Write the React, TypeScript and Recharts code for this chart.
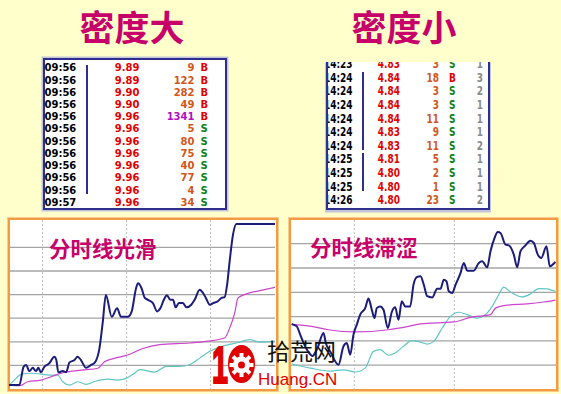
import React from 'react';
import { LineChart, Line, XAxis, YAxis, ReferenceLine } from 'recharts';

type Pt = [number, number];

// left panel: smooth intraday line  [minute, level]
const smoothPrice: Pt[] = [
  [0, 0.17], [3.7, 0.17], [5.2, 0.94], [6.1, 1.02], [7.3, 0.76], [8.5, 0.9], [9.6, 0.76], [10.5, 0.9],
  [11.4, 0.71], [12.6, 0.94], [14.4, 1.09], [16.2, 1.37], [16.9, 1.23], [17.6, 0.71], [19.2, 0.76],
  [20.4, 0.71], [21.6, 1.13], [23.4, 1.23], [24.5, 1.37], [25.7, 1.23], [27.5, 0.9], [29.3, 1.02],
  [30.7, 1.13], [32.3, 1.72], [33.5, 2.85], [34.6, 3.98], [36.7, 3.06], [38.6, 3.42], [40, 3.06],
  [42.4, 3.06], [43.8, 3.28], [45.4, 4.28], [46.1, 4.48], [47.3, 4.28], [48.5, 3.86], [49.6, 3.78],
  [51.4, 3.64], [52.9, 3.29], [54.1, 3.43], [55.3, 3.78], [56.4, 3.97], [57.6, 3.78], [58.6, 3.78],
  [59.5, 3.46], [60.7, 3.64], [62.1, 3.64], [63.4, 3.46], [65.1, 3.57], [66.3, 3.78], [68.1, 4.21],
  [69.3, 4.07], [70.3, 3.86], [71.7, 3.57], [72.9, 3.64], [74.6, 3.72], [75.9, 3.86], [77, 3.89],
  [77.9, 4.42], [78.8, 5.41], [80, 6.54], [81.2, 6.99], [95, 6.99],
];
const smoothAvg: Pt[] = [
  [0, 0.17], [3.7, 0.14], [6.7, 0.31], [11.4, 0.38], [15, 0.52], [18.6, 0.67], [26.9, 0.81],
  [31.7, 0.88], [34.1, 1.16], [37.6, 1.3], [42.4, 1.44], [47.8, 1.72], [53.8, 1.88], [64.5, 1.95],
  [70.5, 2.02], [77, 2.16], [78.8, 2.58], [80.6, 3.22], [81.8, 3.86], [84.8, 4.03], [88.4, 4.14],
  [95, 4.31],
];
const smoothMa: Pt[] = [
  [0, 0.17], [1.9, 0.38], [4.3, 0.62], [7.9, 0.67], [15, 0.59], [17.4, 0.59], [19.2, 0.31],
  [21.6, 0.17], [24.5, 0.31], [27.5, 0.2], [31.1, 0.34], [35.3, 0.42], [38.8, 0.38], [41.8, 0.45],
  [44.8, 0.67], [46.7, 0.82], [52, 0.72], [56.2, 0.96], [61, 0.96], [64.5, 1.03], [68.1, 1.31],
  [71.7, 1.6], [75.9, 1.81], [81.2, 1.95], [86, 2.09], [89.5, 1.99], [95, 2.03],
];

// right panel: choppy intraday line
const roughPrice: Pt[] = [
  [0.2, 2.7], [0.75, 2.67], [1.74, 2.6], [2.76, 2.26], [3.84, 1.9], [5.25, 1.54], [6.45, 1.38],
  [7.95, 1.71], [9.75, 2.33], [10.44, 1.91], [11.85, 1.54], [14.25, 1.02], [15.75, 1.78],
  [16.74, 1.91], [17.76, 1.43], [18.75, 2.26], [19.74, 2.67], [20.76, 3.08], [22.26, 3.35],
  [23.25, 3.74], [24.24, 3.28], [25.05, 2.94], [25.74, 3.35], [26.76, 3.42], [27.75, 3.28],
  [29.04, 2.53], [30.24, 3.19], [31.26, 3.38], [32.25, 2.87], [33.24, 3.63], [34.26, 3.42],
  [35.76, 3.42], [36.75, 4.31], [37.74, 4.62], [38.85, 4.66], [39.84, 4.31], [40.86, 3.84],
  [42.36, 3.79], [43.86, 4.15], [44.85, 4.15], [45.84, 4.52], [46.65, 4.45], [47.34, 4.04],
  [48.36, 3.97], [49.35, 4.31], [50.85, 4.79], [51.84, 5.21], [52.86, 4.89], [54.84, 4.89],
  [56.34, 5.21], [57.36, 5.28], [58.86, 5.03], [59.85, 5.69], [61.05, 6.23], [62.04, 6.48],
  [62.85, 6.44], [64.35, 5.96], [65.34, 5.93], [66.84, 5.55], [67.86, 5.03], [68.85, 5.69],
  [70.35, 5.93], [71.85, 6.12], [72.84, 6.03], [74.04, 5.55], [75.06, 5.41], [76.65, 5.89],
  [77.64, 5.07], [78.66, 5.16], [79.35, 5.25],
];
const roughAvg: Pt[] = [
  [0.2, 2.67], [6.24, 2.6], [11.25, 2.46], [19.26, 2.37], [29.25, 2.46], [35.25, 2.6], [38.85, 2.7],
  [48.84, 2.78], [53.85, 2.97], [59.85, 3.08], [61.35, 3.35], [64.86, 3.47], [70.86, 3.52],
  [75.84, 3.6], [79.35, 3.68],
];
const roughMa: Pt[] = [
  [0.2, 1.05], [5.85, 0.88], [11.85, 0.76], [15.75, 0.81], [19.26, 0.72], [22.26, 0.88],
  [24.75, 1.57], [26.76, 1.64], [29.25, 1.41], [31.26, 1.5], [33.75, 1.78], [36.24, 2.01],
  [38.85, 1.95], [40.86, 1.87], [42.84, 1.98], [45.36, 2.53], [47.85, 3.01], [50.34, 3.18],
  [52.86, 3.08], [55.86, 2.94], [58.35, 3.08], [60.36, 3.42], [62.34, 3.9], [63.84, 4.21],
  [65.85, 4.01], [69.36, 3.81], [71.85, 3.93], [74.34, 4.15], [76.86, 4.14], [78.66, 4.07],
  [79.35, 4.05],
];

const gridLevels = [1, 2, 3, 4, 5, 6];
const smoothGridTimes = [12, 42, 72];
const roughGridTimes = [19, 49];

// tick tables
const denseTimes = ['09:56', '09:56', '09:56', '09:56', '09:56', '09:56', '09:56', '09:56', '09:56', '09:56', '09:56', '09:57'];
const densePrices = ['9.89', '9.89', '9.90', '9.90', '9.96', '9.96', '9.96', '9.96', '9.96', '9.96', '9.96', '9.96'];
const denseVols = [9, 122, 282, 49, 1341, 5, 80, 75, 40, 77, 4, 34];
const denseSides = ['B', 'B', 'B', 'B', 'B', 'S', 'S', 'S', 'S', 'S', 'S', 'S'];

const sparseTimes = ['14:23', '14:24', '14:24', '14:24', '14:24', '14:24', '14:24', '14:25', '14:25', '14:25', '14:26'];
const sparsePrices = ['4.83', '4.84', '4.84', '4.84', '4.84', '4.83', '4.83', '4.81', '4.80', '4.80', '4.80'];
const sparseVols = [3, 18, 3, 3, 11, 9, 11, 5, 2, 1, 23];
const sparseSides = ['S', 'B', 'S', 'S', 'S', 'S', 'S', 'S', 'S', 'S', 'S'];
const sparseCounts = [1, 3, 2, 1, 1, 1, 2, 1, 1, 1, 2];

const NAVY = '#1c1c7a';
const TITLE = '#c8006a';
const RED = '#e00000';
const ORANGE = '#d2561a';
const GREEN = '#108010';
const MONO = "'DejaVu Sans', Verdana, sans-serif";
const CJK = "'Noto Sans CJK SC', sans-serif";

const rows = (pts: Pt[]) => pts.map(([t, v]) => ({ t, v }));

interface PanelProps {
  price: Pt[];
  avg: Pt[];
  ma: Pt[];
  times: number[];
  xDomain: [number, number];
  yDomain: [number, number];
  width: number;
  height: number;
}

const Panel: React.FC<PanelProps> = ({ price, avg, ma, times, xDomain, yDomain, width, height }) => (
  <LineChart width={width} height={height} margin={{ top: 0, right: 0, bottom: 0, left: 0 }}>
    <XAxis type="number" dataKey="t" domain={xDomain} allowDataOverflow hide />
    <YAxis type="number" dataKey="v" domain={yDomain} allowDataOverflow hide />
    {gridLevels.map((y) => (
      <ReferenceLine key={'h' + y} y={y} stroke="#a4a4a4" strokeWidth={1.3} />
    ))}
    {times.map((x) => (
      <ReferenceLine key={'v' + x} x={x} stroke="#bdbdbd" strokeDasharray="2 2" />
    ))}
    <Line data={rows(ma)} dataKey="v" type="monotone" stroke="#62c6c6" strokeWidth={1.2} dot={false} isAnimationActive={false} />
    <Line data={rows(avg)} dataKey="v" type="monotone" stroke="#cc44cc" strokeWidth={1.2} dot={false} isAnimationActive={false} />
    <Line data={rows(price)} dataKey="v" type="monotone" stroke={NAVY} strokeWidth={2} dot={false} isAnimationActive={false} />
  </LineChart>
);

const abs = (s: React.CSSProperties): React.CSSProperties => ({ position: 'absolute', ...s });

// right-aligned text ending at x
const RightText: React.FC<{ x: number; cy: number; color: string; size: number; sx?: number; children: React.ReactNode }> = ({ x, cy, color, size, sx = 1, children }) => (
  <div
    style={abs({
      left: x - 80, width: 80, top: cy - 7, height: 14, lineHeight: '14px', textAlign: 'right',
      fontSize: size, fontWeight: 700, color, fontFamily: MONO, whiteSpace: 'nowrap',
      transform: `scaleX(${sx})`, transformOrigin: 'right center',
    })}
  >
    {children}
  </div>
);

const LeftText: React.FC<{ x: number; cy: number; color: string; size: number; sx?: number; children: React.ReactNode }> = ({ x, cy, color, size, sx = 1, children }) => (
  <div
    style={abs({
      left: x, top: cy - 7, height: 14, lineHeight: '14px', fontSize: size, fontWeight: 700, color,
      fontFamily: MONO, whiteSpace: 'nowrap', transform: `scaleX(${sx})`, transformOrigin: 'left center',
    })}
  >
    {children}
  </div>
);

const DenseTable = () => {
  const cy = (i: number) => 68.3 + 12.22 * i;
  return (
    <>
      <div style={abs({ left: 43, top: 57.5, width: 183.5, height: 152.5, boxSizing: 'border-box', border: '2px solid #2e2e8e', background: '#fff', boxShadow: '0 0 0 1.5px #c4c4d8' })} />
      <div style={abs({ left: 85.5, top: cy(0) - 3, width: 2, height: cy(10) - cy(0) + 7, background: '#2e2e8e' })} />
      {denseTimes.map((t, i) => (
        <LeftText key={'t' + i} x={44.5} cy={cy(i)} color="#000" size={10}>{t}</LeftText>
      ))}
      {densePrices.map((p, i) => (
        <RightText key={'p' + i} x={139.5} cy={cy(i)} color={RED} size={10}>{p}</RightText>
      ))}
      {denseVols.map((v, i) => (
        <RightText key={'v' + i} x={194.5} cy={cy(i)} color={v > 1000 ? '#b010c0' : ORANGE} size={10}>{v}</RightText>
      ))}
      {denseSides.map((s, i) => (
        <LeftText key={'s' + i} x={200.5} cy={cy(i)} color={s === 'B' ? RED : GREEN} size={10}>{s}</LeftText>
      ))}
    </>
  );
};

const SparseTable = () => {
  // coordinates relative to the clipped box (padding edge at x=328, y=61.5)
  const ox = 328;
  const oy = 61.5;
  const cy = (i: number) => 64.2 + 13.6 * i - oy;
  const sx = 0.78;
  const groups: [number, number][] = [[1, 6], [7, 9]];
  return (
    <div style={abs({ left: 326, top: oy, width: 164, height: 148.5, boxSizing: 'border-box', borderLeft: '2px solid #2e2e8e', borderRight: '2px solid #2e2e8e', borderBottom: '2px solid #2e2e8e', background: '#fff', overflow: 'hidden', boxShadow: '0 1.5px 0 1px #c4c4d8' })}>
      {groups.map(([a, b]) => (
        <div key={a} style={abs({ left: 362.3 - ox, top: cy(a) - 6, width: 2, height: cy(b) - cy(a) + 10, background: '#2e2e8e' })} />
      ))}
      {sparseTimes.map((t, i) => (
        <LeftText key={'t' + i} x={323.8 - ox} cy={cy(i)} color="#000" size={11.5} sx={sx}>{t}</LeftText>
      ))}
      {sparsePrices.map((p, i) => (
        <RightText key={'p' + i} x={400 - ox} cy={cy(i)} color={RED} size={11.5} sx={sx}>{p}</RightText>
      ))}
      {sparseVols.map((v, i) => (
        <RightText key={'v' + i} x={438.5 - ox} cy={cy(i)} color={ORANGE} size={11.5} sx={sx}>{v}</RightText>
      ))}
      {sparseSides.map((s, i) => (
        <LeftText key={'s' + i} x={448.8 - ox} cy={cy(i)} color={s === 'B' ? RED : GREEN} size={11.5} sx={sx}>{s}</LeftText>
      ))}
      {sparseCounts.map((c, i) => (
        <RightText key={'c' + i} x={483 - ox} cy={cy(i)} color="#8a8a8a" size={11.5} sx={sx}>{c}</RightText>
      ))}
    </div>
  );
};

const Watermark = () => {
  const teeth = [0, 45, 90, 135, 180, 225, 270, 315];
  return (
    <svg style={abs({ left: 200, top: 330, overflow: 'visible' })} width={150} height={64}>
      <text x={12} y={53} fontFamily="'Liberation Sans', Arial, sans-serif" fontWeight={900} fontSize={52} fill="#e00000" stroke="#e00000" strokeWidth={2.2} textLength={16} lengthAdjust="spacingAndGlyphs">1</text>
      <ellipse cx={41.5} cy={34} rx={13.5} ry={19} fill="#e00000" />
      <g transform="translate(41.5,35)">
        {teeth.map((a) => (
          <rect key={a} x={-2} y={-12} width={4} height={5} fill="#fff" transform={`rotate(${a})`} />
        ))}
        <circle r={8.5} fill="#fff" />
        <circle r={3.5} fill="#e00000" />
      </g>
      <text x={67} y={30} fontFamily={CJK} fontSize={23} fill="#111">拾荒网</text>
      <text x={58} y={55} fontFamily="'Liberation Sans', Arial, sans-serif" fontSize={17} fill="#e00000">Huang.CN</text>
    </svg>
  );
};

export default function App() {
  return (
    <div style={{ position: 'absolute', left: 0, top: 0, width: 561, height: 394, background: '#ffffcc', overflow: 'hidden', fontFamily: MONO }}>
      <div style={abs({ left: 72, top: 4, width: 120, textAlign: 'center', fontFamily: CJK, fontWeight: 700, fontSize: 35, lineHeight: '44px', color: TITLE })}>密度大</div>
      <div style={abs({ left: 344, top: 4, width: 120, textAlign: 'center', fontFamily: CJK, fontWeight: 700, fontSize: 35, lineHeight: '44px', color: TITLE })}>密度小</div>

      <DenseTable />
      <SparseTable />

      <div style={abs({ left: 8, top: 218, width: 270, height: 173, boxSizing: 'border-box', border: '2px solid #f39b3f', background: '#fff', boxShadow: '0 0 0 1px #f8cc90' })} />
      <div style={abs({ left: 289, top: 218, width: 269, height: 173, boxSizing: 'border-box', border: '2px solid #f39b3f', background: '#fff', boxShadow: '0 0 0 1px #f8cc90' })} />

      <div style={abs({ left: 9, top: 220 })}>
        <Panel price={smoothPrice} avg={smoothAvg} ma={smoothMa} times={smoothGridTimes} xDomain={[0, 95]} yDomain={[-0.04, 7.16]} width={266} height={170} />
      </div>
      <div style={abs({ left: 290.5, top: 220 })}>
        <Panel price={roughPrice} avg={roughAvg} ma={roughMa} times={roughGridTimes} xDomain={[0, 79.5]} yDomain={[-0.02, 6.975]} width={265} height={170} />
      </div>

      <div style={abs({ left: 49, top: 234, fontFamily: CJK, fontWeight: 700, fontSize: 21.5, lineHeight: '28px', color: TITLE })}>分时线光滑</div>
      <div style={abs({ left: 310, top: 233, fontFamily: CJK, fontWeight: 700, fontSize: 21.5, lineHeight: '28px', color: TITLE })}>分时线滞涩</div>

      <Watermark />
    </div>
  );
}
